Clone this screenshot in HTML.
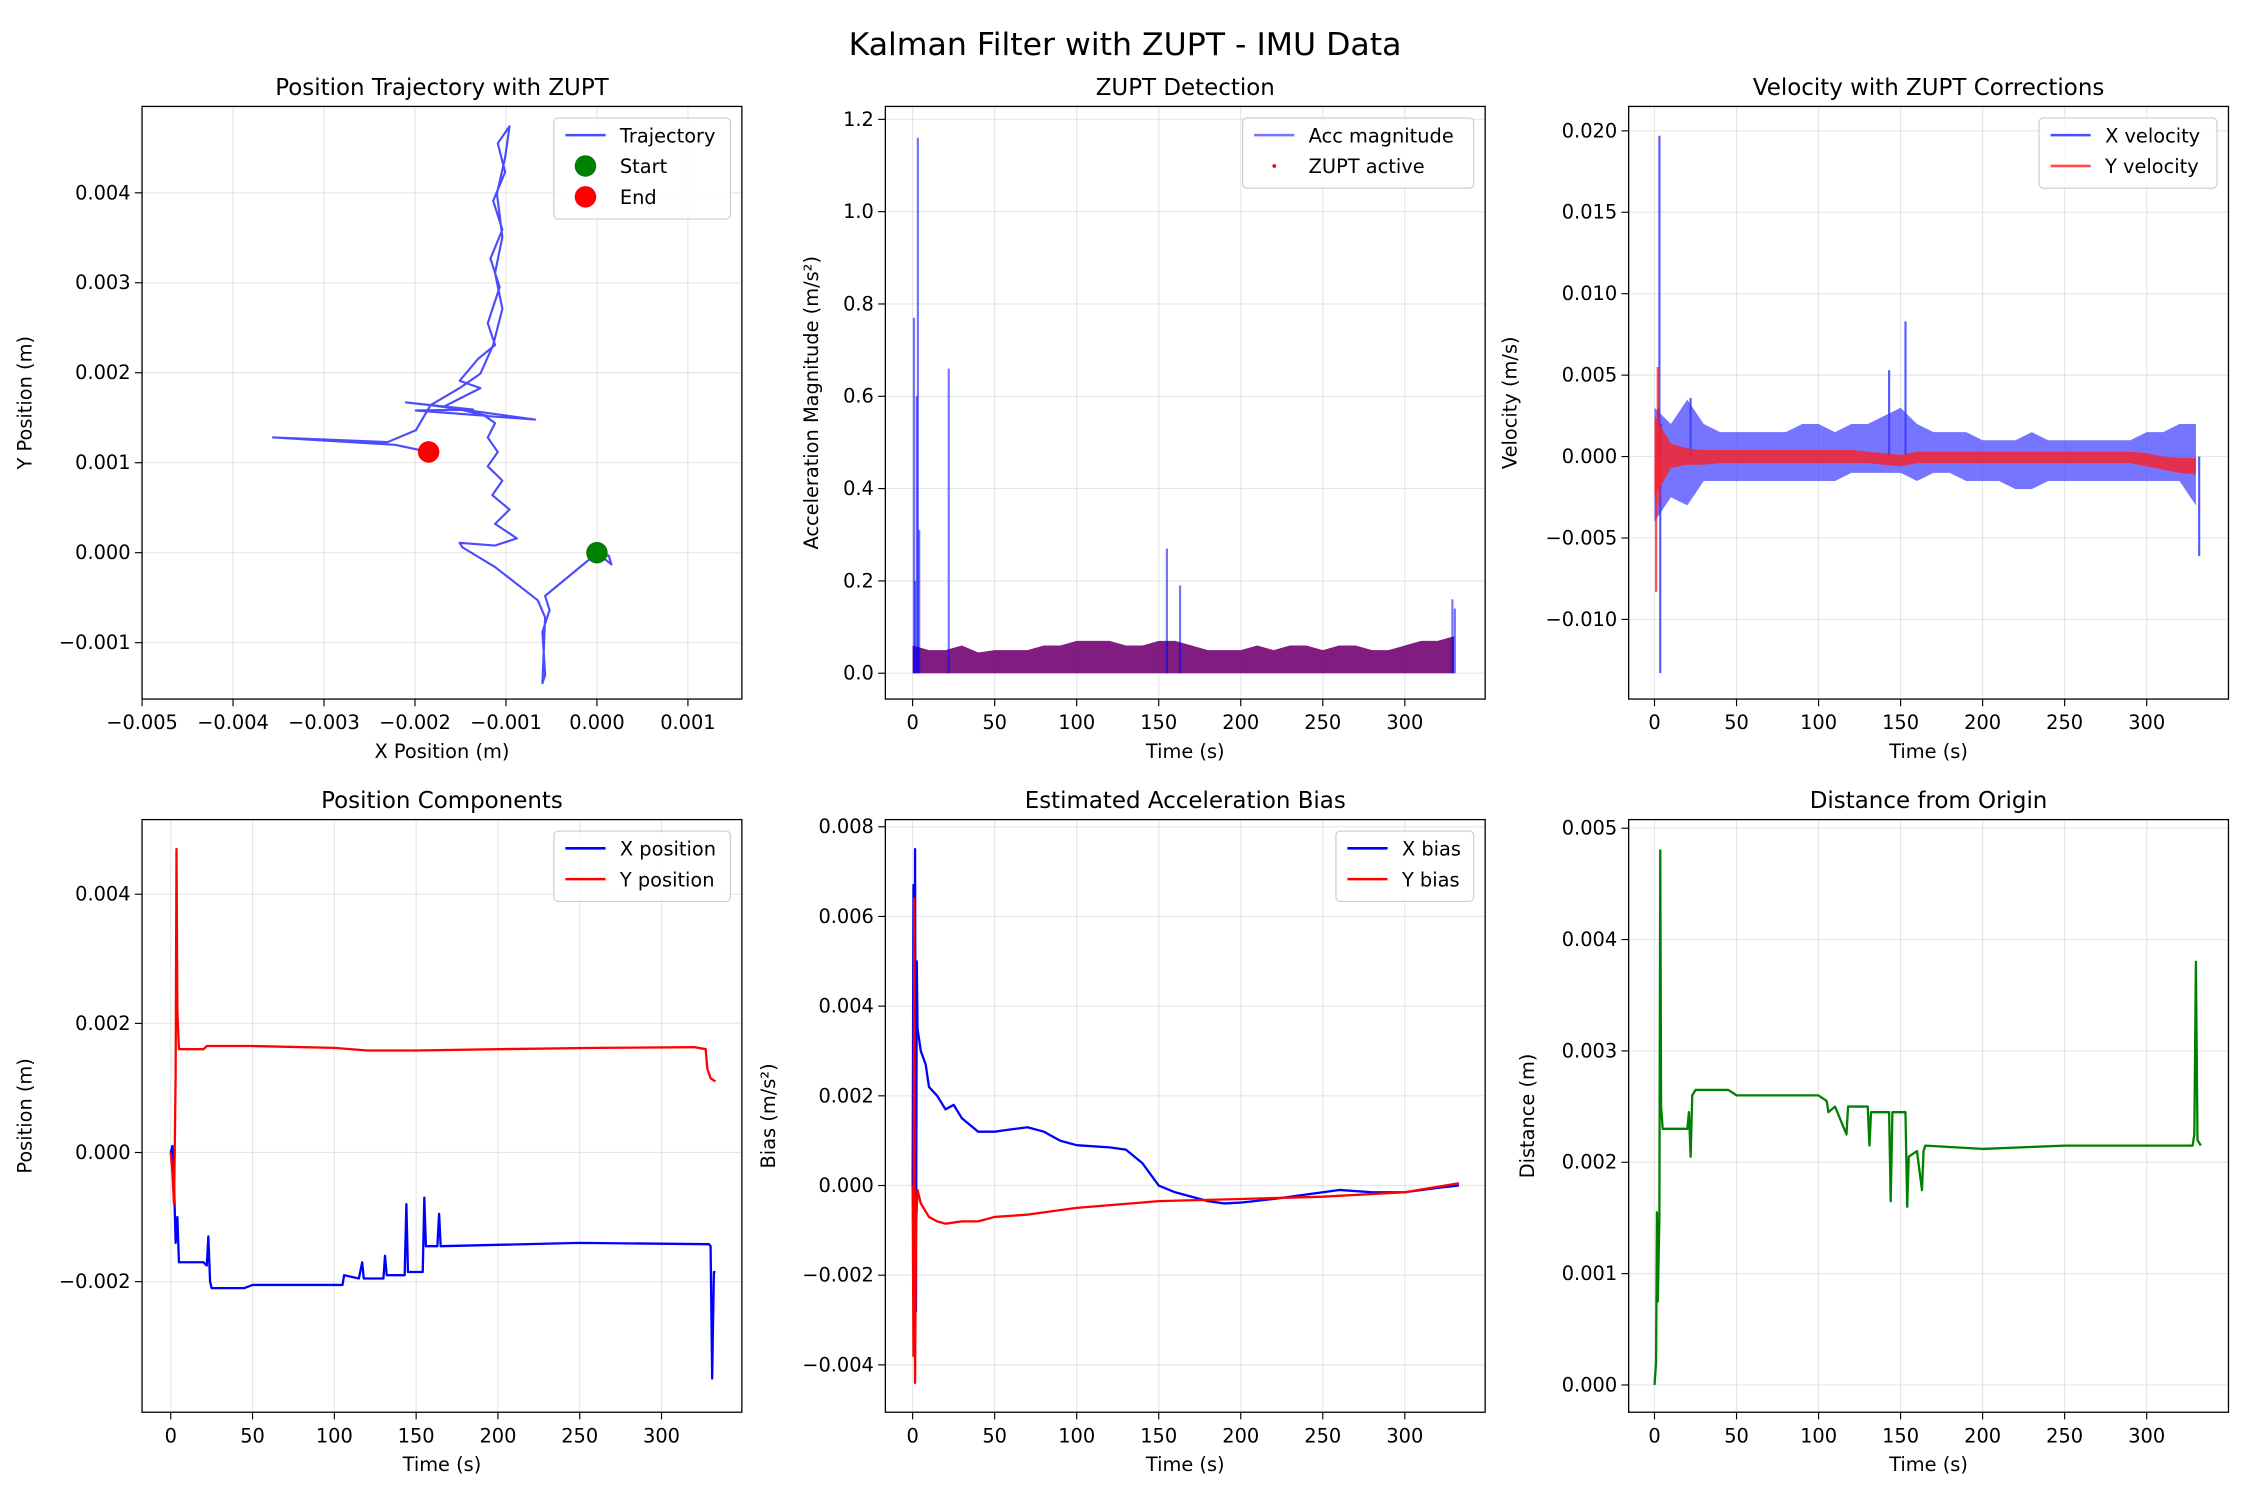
<!DOCTYPE html>
<html><head><meta charset="utf-8"><style>
html,body{margin:0;padding:0;background:#fff;}
svg{display:block;font-family:"DejaVu Sans","Liberation Sans",sans-serif;}
</style></head><body>
<svg id="fig" width="2250" height="1500" viewBox="0 0 1568 1045" xmlns="http://www.w3.org/2000/svg">
<rect width="1568" height="1045" fill="#fff"/>
<text x="784" y="38" font-size="22" text-anchor="middle">Kalman Filter with ZUPT - IMU Data</text>
</svg>
<script>
// ---- Data ----
// Panel 1 trajectory, mm
const trajX=[0,0.16,0.13,-0.09,-0.57,-0.52,-0.60,-0.57,-0.60,-0.57,-0.65,-1.12,-1.48,-1.51,-1.12,-0.88,-1.12,-0.96,-1.15,-1.04,-1.20,-1.09,-1.20,-1.12,-1.23,-0.68,-1.83,-2.10,-1.36,-1.99,-1.20,-1.67,-1.28,-1.51,-1.31,-1.12,-1.20,-1.07,-1.17,-1.04,-1.14,-1.01,-1.09,-0.96,-1.01,-1.10,-1.04,-1.12,-1.04,-1.14,-1.28,-1.51,-1.83,-1.99,-2.30,-3.56,-2.22,-1.85];
const trajY=[0,-0.13,-0.03,-0.08,-0.48,-0.64,-0.88,-1.36,-1.45,-0.72,-0.53,-0.16,0.06,0.11,0.08,0.16,0.32,0.48,0.64,0.80,0.96,1.12,1.28,1.44,1.52,1.48,1.64,1.67,1.59,1.58,1.52,1.63,1.83,1.91,2.15,2.31,2.55,2.95,3.27,3.59,3.91,4.23,4.55,4.74,4.39,3.99,3.51,3.11,2.71,2.31,1.99,1.83,1.64,1.36,1.23,1.28,1.20,1.12];
const startPt=[0,0], endPt=[-1.85,1.12];
// Panel 2 ZUPT detection
const bandT=[0,10,20,30,40,50,60,70,80,90,100,110,120,130,140,150,160,170,180,190,200,210,220,230,240,250,260,270,280,290,300,310,320,330];
const accMax=[0.06,0.05,0.05,0.06,0.045,0.05,0.05,0.05,0.06,0.06,0.07,0.07,0.07,0.06,0.06,0.07,0.07,0.06,0.05,0.05,0.05,0.06,0.05,0.06,0.06,0.05,0.06,0.06,0.05,0.05,0.06,0.07,0.07,0.08];
const accSpikeT=[0.8,1.5,2.5,3.2,4,22,155,163,329,330.5];
const accSpikeV=[0.77,0.2,0.6,1.16,0.31,0.66,0.27,0.19,0.16,0.14];
// Panel 3 velocity, mm/s
const velXMax=[3,2,3.5,2,1.5,1.5,1.5,1.5,1.5,2,2,1.5,2,2,2.5,3,2,1.5,1.5,1.5,1,1,1,1.5,1,1,1,1,1,1,1.5,1.5,2,2];
const velXMin=[-4,-2.5,-3,-1.5,-1.5,-1.5,-1.5,-1.5,-1.5,-1.5,-1.5,-1.5,-1,-1,-1,-1,-1.5,-1,-1,-1.5,-1.5,-1.5,-2,-2,-1.5,-1.5,-1.5,-1.5,-1.5,-1.5,-1.5,-1.5,-1.5,-3];
const velYMax=[2.5,0.8,0.5,0.4,0.4,0.4,0.4,0.4,0.4,0.4,0.4,0.4,0.4,0.3,0.2,0.1,0.3,0.3,0.3,0.3,0.3,0.3,0.3,0.3,0.3,0.3,0.3,0.3,0.3,0.3,0.2,0.0,-0.1,-0.1];
const velYMin=[-2.5,-0.7,-0.5,-0.5,-0.4,-0.4,-0.4,-0.4,-0.4,-0.4,-0.4,-0.4,-0.4,-0.4,-0.5,-0.6,-0.4,-0.4,-0.4,-0.4,-0.4,-0.4,-0.4,-0.4,-0.4,-0.4,-0.4,-0.4,-0.4,-0.4,-0.6,-0.8,-1.0,-1.1];
const velXSpikeT=[2.5,3,3.5,4,22,143,153,332];
const velXSpikeV=[3,19.7,-13.3,2,3.6,5.3,8.3,-6.1];
const velYSpikeT=[1,2,3];
const velYSpikeV=[-8.3,5.5,-3];
// Panel 4 position components, mm
const posXT=[0,1,2,3,4,5,20,22,23,24,25,45,50,105,106,115,117,118,130,131,132,143,144,145,154,155,156,163,164,165,250,329,330,331,332,333];
const posXV=[0,0.1,-0.5,-1.4,-1.0,-1.7,-1.7,-1.75,-1.3,-2.0,-2.1,-2.1,-2.05,-2.05,-1.9,-1.95,-1.7,-1.95,-1.95,-1.6,-1.9,-1.9,-0.8,-1.85,-1.85,-0.7,-1.45,-1.45,-0.95,-1.45,-1.4,-1.42,-1.45,-3.5,-1.85,-1.85];
const posYT=[0,1,2,3,3.5,4,5,20,22,50,100,120,150,200,260,320,327,328,330,333];
const posYV=[0,-0.3,-0.8,1.2,4.7,2.2,1.6,1.6,1.65,1.65,1.62,1.58,1.58,1.6,1.62,1.63,1.6,1.3,1.15,1.1];
// Panel 5 bias, 1e-3 m/s²
const biasXT=[0,0.5,1,1.5,2,2.5,3,5,8,10,15,20,25,30,40,50,60,70,80,90,100,120,130,140,150,160,180,190,200,220,240,260,280,300,320,333];
const biasXV=[0,6.7,-3.8,7.5,-2.8,5,3.5,3.0,2.7,2.2,2.0,1.7,1.8,1.5,1.2,1.2,1.25,1.3,1.2,1.0,0.9,0.85,0.8,0.5,0.0,-0.15,-0.35,-0.4,-0.38,-0.3,-0.2,-0.1,-0.15,-0.15,-0.05,0.0];
const biasYT=[0,0.5,1,1.5,2,3,5,10,15,20,30,40,50,70,100,150,200,250,300,333];
const biasYV=[0,-3.8,6.4,-4.4,-1,-0.1,-0.4,-0.7,-0.8,-0.85,-0.8,-0.8,-0.7,-0.65,-0.5,-0.35,-0.3,-0.25,-0.15,0.05];
// Panel 6 distance, mm
const distT=[0,1,1.5,2,3,3.5,4,5,20,21,22,23,25,45,50,100,105,106,110,117,118,130,131,132,143,144,145,153,154,155,160,163,164,165,200,250,300,328,329,330,331,333];
const distV=[0,0.2,1.55,0.75,1.5,4.8,2.5,2.3,2.3,2.45,2.05,2.6,2.65,2.65,2.6,2.6,2.55,2.45,2.5,2.25,2.5,2.5,2.15,2.45,2.45,1.65,2.45,2.45,1.6,2.05,2.1,1.75,2.1,2.15,2.12,2.15,2.15,2.15,2.25,3.8,2.2,2.15];
// tick labels
const p1XTicks=[-0.005,-0.004,-0.003,-0.002,-0.001,0,0.001];
const p1YTicks=[-0.001,0,0.001,0.002,0.003,0.004];
const timeTicks=[0,50,100,150,200,250,300];
const p2YTicks=[0,0.2,0.4,0.6,0.8,1.0,1.2];
const p3YTicks=[-0.010,-0.005,0,0.005,0.010,0.015,0.020];
const p4YTicks=[-0.002,0,0.002,0.004];
const p5YTicks=[-0.004,-0.002,0,0.002,0.004,0.006,0.008];
const p6YTicks=[0,0.001,0.002,0.003,0.004,0.005];

const NS="http://www.w3.org/2000/svg";
const svg=document.getElementById('fig');
function mk(tag,attrs,parent){const e=document.createElementNS(NS,tag);for(const k in attrs)e.setAttribute(k,attrs[k]);(parent||svg).appendChild(e);return e;}
function fmt(v,d){const s=Math.abs(v).toFixed(d);return (v<0?'\u2212':'')+s;}
function lin(v0,p0,v1,p1){return v=>p0+(v-v0)*(p1-p0)/(v1-v0);}

function axes(name,L,R,T,B,xs,ys,xt,xd,yt,yd,title,xl,yl,ylx){
  const g=mk('g',{});
  
  
  xt.forEach(v=>{const x=xs(v);
    const gl=mk('line',{x1:x,x2:x,y1:T,y2:B,stroke:'#b0b0b0','stroke-opacity':0.3,'stroke-width':0.8},g);
    
    
    mk('line',{x1:x,x2:x,y1:B,y2:B+5,stroke:'#000','stroke-width':0.8},g);
    const t=mk('text',{x:x,y:B+21,'font-size':13.5,'text-anchor':'middle'},g);t.textContent=fmt(v,xd);
    
    });
  yt.forEach(v=>{const y=ys(v);
    const gl=mk('line',{x1:L,x2:R,y1:y,y2:y,stroke:'#b0b0b0','stroke-opacity':0.3,'stroke-width':0.8},g);
    
    
    mk('line',{x1:L-5,x2:L,y1:y,y2:y,stroke:'#000','stroke-width':0.8},g);
    const t=mk('text',{x:L-8,y:y+4.5,'font-size':13.5,'text-anchor':'end'},g);t.textContent=fmt(v,yd);
    
    });
  const tt=mk('text',{x:(L+R)/2,y:T-8,'font-size':16,'text-anchor':'middle'},g);tt.textContent=title;
  
  
  const xlab=mk('text',{x:(L+R)/2,y:B+41,'font-size':13.5,'text-anchor':'middle'},g);xlab.textContent=xl;
  
  
  const cy=(T+B)/2;
  const ylab=mk('text',{x:ylx,y:cy,'font-size':13.5,'text-anchor':'middle',transform:`rotate(-90 ${ylx} ${cy})`},g);ylab.textContent=yl;
  
  
  const clip=mk('clipPath',{id:'c'+name},g);mk('rect',{x:L,y:T,width:R-L,height:B-T},clip);
  const plot=mk('g',{'clip-path':`url(#c${name})`},g);
  const frame=()=>mk('rect',{x:L,y:T,width:R-L,height:B-T,fill:'none',stroke:'#000','stroke-width':0.9},g);
  return {g,plot,frame};
}
function poly(parent,xs,ys,X,Y,color,w,op){
  const pts=X.map((v,i)=>xs(v).toFixed(1)+','+ys(Y[i]).toFixed(1)).join(' ');
  return mk('polyline',{points:pts,fill:'none',stroke:color,'stroke-width':w,'stroke-opacity':op,'stroke-linejoin':'round'},parent);
}
function band(parent,xs,ys,T,lo,hi,color,op){
  let pts=T.map((t,i)=>xs(t)+','+ys(hi[i])); pts=pts.concat(T.slice().reverse().map((t,i)=>xs(t)+','+ys(lo[T.length-1-i])));
  return mk('polygon',{points:pts.join(' '),fill:color,'fill-opacity':op},parent);
}
function spikes(parent,xs,ys,T,V,color,op,w){
  T.forEach((t,i)=>{const l=mk('line',{x1:xs(t),x2:xs(t),y1:ys(0),y2:ys(V[i]),stroke:color,'stroke-opacity':op,'stroke-width':w},parent);
    
    });
}
function legend(name,x,y,w,entries){
  const g=mk('g',{});
  
  
  const h=entries.length*21.5+6;
  mk('rect',{x:x,y:y,width:w,height:h,rx:3,fill:'#fff','fill-opacity':0.8,stroke:'#ccc','stroke-width':0.8},g);
  entries.forEach((e,i)=>{const cy=y+12+i*21.5;
    const eg=mk('g',{},g);
    
    
    if(e.type==='line')mk('line',{x1:x+8,x2:x+36,y1:cy,y2:cy,stroke:e.c,'stroke-width':1.8,'stroke-opacity':e.op||1},eg);
    else if(e.type==='dot')mk('circle',{cx:x+22,cy:cy,r:7.5,fill:e.c},eg);
    else mk('circle',{cx:x+22,cy:cy,r:1.3,fill:e.c},eg);
    const t=mk('text',{x:x+46,y:cy+5,'font-size':13.5},eg);t.textContent=e.t;});
}

// Panel 1
(function(){
 const xs=lin(0,416,0.001,479.4), ys=lin(0,385,0.001,322.3);
 const a=axes('trajectory-panel',99,517,74,487,xs,ys,p1XTicks,3,p1YTicks,3,'Position Trajectory with ZUPT','X Position (m)','Y Position (m)',22);
 const l=poly(a.plot,xs,ys,trajX.map(v=>v*1e-3),trajY.map(v=>v*1e-3),'#0000ff',1.5,0.7);
 
 
 const s=mk('circle',{cx:xs(startPt[0]*1e-3),cy:ys(startPt[1]*1e-3),r:7.5,fill:'green'},a.plot);
 
 
 const e=mk('circle',{cx:xs(endPt[0]*1e-3),cy:ys(endPt[1]*1e-3),r:7.5,fill:'red'},a.plot);
 
 
 a.frame();
 legend('trajectory-legend',386,82,123,[{type:'line',c:'#0000ff',op:0.7,t:'Trajectory'},{type:'dot',c:'green',t:'Start'},{type:'dot',c:'red',t:'End'}]);
})();
// Panel 2
(function(){
 const xs=lin(0,636,300,979), ys=lin(0,469,1.2,83);
 const a=axes('zupt-panel',617,1035,74,487,xs,ys,timeTicks,0,p2YTicks,1,'ZUPT Detection','Time (s)','Acceleration Magnitude (m/s\u00b2)',570);
 const b=band(a.plot,xs,ys,bandT,bandT.map(()=>0),accMax,'#7a107a',0.95);
 
 
 spikes(a.plot,xs,ys,accSpikeT,accSpikeV,'#0000ff',0.55,1.5);
 a.frame();
 legend('zupt-legend',866,82,161,[{type:'line',c:'#0000ff',op:0.55,t:'Acc magnitude'},{type:'pt',c:'red',t:'ZUPT active'}]);
})();
// Panel 3
(function(){
 const xs=lin(0,1153,300,1496), ys=lin(0,318,0.02,91);
 const a=axes('velocity-panel',1135,1553,74,487,xs,ys,timeTicks,0,p3YTicks,3,'Velocity with ZUPT Corrections','Time (s)','Velocity (m/s)',1057);
 const b1=band(a.plot,xs,ys,bandT,velXMin.map(v=>v*1e-3),velXMax.map(v=>v*1e-3),'#3a3aff',0.7);
 
 
 spikes(a.plot,xs,ys,velXSpikeT,velXSpikeV.map(v=>v*1e-3),'#3a3aff',0.85,1.5);
 const b2=band(a.plot,xs,ys,bandT,velYMin.map(v=>v*1e-3),velYMax.map(v=>v*1e-3),'#ff2020',0.8);
 
 
 spikes(a.plot,xs,ys,velYSpikeT,velYSpikeV.map(v=>v*1e-3),'#ff2020',0.8,1.5);
 a.frame();
 legend('velocity-legend',1421,82,124,[{type:'line',c:'#0000ff',op:0.7,t:'X velocity'},{type:'line',c:'#ff0000',op:0.7,t:'Y velocity'}]);
})();
// Panel 4
(function(){
 const xs=lin(0,119,300,461), ys=lin(0,803,0.004,623);
 const a=axes('position-panel',99,517,571,984,xs,ys,timeTicks,0,p4YTicks,3,'Position Components','Time (s)','Position (m)',22);
 const l1=poly(a.plot,xs,ys,posXT,posXV.map(v=>v*1e-3),'#0000ff',1.6,1);
 
 
 const l2=poly(a.plot,xs,ys,posYT,posYV.map(v=>v*1e-3),'#ff0000',1.6,1);
 
 
 a.frame();
 legend('position-legend',386,579,123,[{type:'line',c:'#0000ff',t:'X position'},{type:'line',c:'#ff0000',t:'Y position'}]);
})();
// Panel 5
(function(){
 const xs=lin(0,636,300,979), ys=lin(0,826,0.008,576);
 const a=axes('bias-panel',617,1035,571,984,xs,ys,timeTicks,0,p5YTicks,3,'Estimated Acceleration Bias','Time (s)','Bias (m/s\u00b2)',540);
 const l1=poly(a.plot,xs,ys,biasXT,biasXV.map(v=>v*1e-3),'#0000ff',1.6,1);
 
 
 const l2=poly(a.plot,xs,ys,biasYT,biasYV.map(v=>v*1e-3),'#ff0000',1.6,1);
 
 
 a.frame();
 legend('bias-legend',931,579,96,[{type:'line',c:'#0000ff',t:'X bias'},{type:'line',c:'#ff0000',t:'Y bias'}]);
})();
// Panel 6
(function(){
 const xs=lin(0,1153,300,1496), ys=lin(0,965,0.005,577);
 const a=axes('distance-panel',1135,1553,571,984,xs,ys,timeTicks,0,p6YTicks,3,'Distance from Origin','Time (s)','Distance (m)',1069);
 const l=poly(a.plot,xs,ys,distT,distV.map(v=>v*1e-3),'green',1.6,1);
 
 
 a.frame();
})();
</script>
</body></html>
